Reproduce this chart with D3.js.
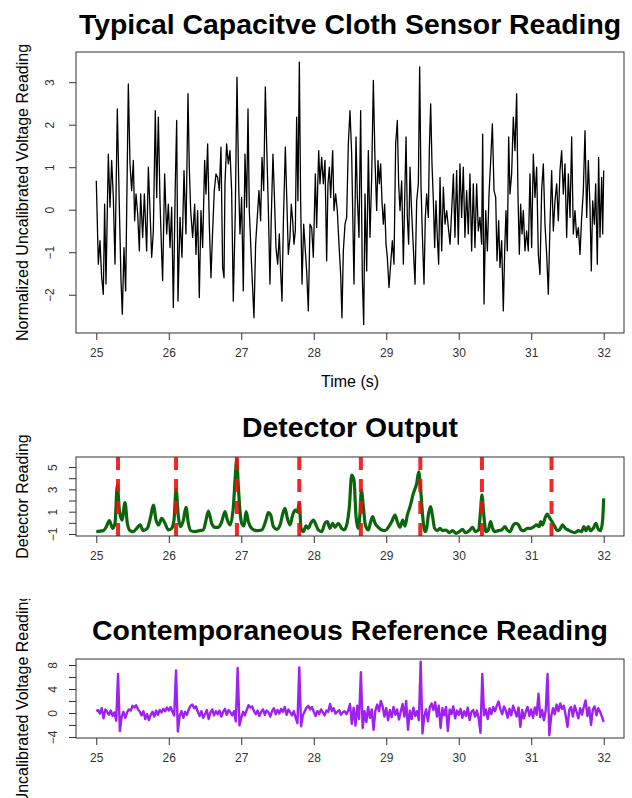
<!DOCTYPE html>
<html><head><meta charset="utf-8">
<script src="https://cdn.jsdelivr.net/npm/d3@7"></script>
<style>
body{margin:0;background:#fff}
svg{display:block}
text{font-family:"Liberation Sans",Arial,Helvetica,sans-serif}
</style>
</head><body>
<svg id="chart" width="632" height="798"></svg>
<script>
// ---------- data ----------
const timeTicks = [25, 26, 27, 28, 29, 30, 31, 32];

const sensorTime = [25.000,25.028,25.051,25.074,25.097,25.115,25.134,25.166,25.189,25.212,25.235,25.258,25.290,25.318,25.341,25.359,25.382,25.405,25.442,25.465,25.488,25.511,25.529,25.548,25.571,25.594,25.612,25.640,25.663,25.695,25.718,25.741,25.764,25.787,25.814,25.833,25.856,25.879,25.902,25.915,25.943,25.971,25.994,26.017,26.040,26.063,26.090,26.109,26.127,26.155,26.182,26.210,26.237,26.265,26.283,26.302,26.329,26.357,26.375,26.398,26.421,26.444,26.467,26.495,26.513,26.536,26.559,26.582,26.605,26.628,26.651,26.674,26.697,26.720,26.743,26.762,26.775,26.798,26.821,26.844,26.867,26.890,26.918,26.941,26.964,26.982,27.005,27.028,27.051,27.074,27.093,27.111,27.134,27.152,27.175,27.198,27.221,27.244,27.267,27.286,27.309,27.332,27.350,27.373,27.396,27.414,27.437,27.456,27.479,27.502,27.525,27.543,27.562,27.580,27.608,27.626,27.649,27.672,27.690,27.709,27.727,27.746,27.764,27.782,27.801,27.819,27.838,27.861,27.884,27.902,27.925,27.948,27.971,27.994,28.022,28.040,28.068,28.086,28.109,28.132,28.155,28.178,28.196,28.215,28.233,28.261,28.279,28.302,28.325,28.348,28.371,28.389,28.408,28.431,28.454,28.477,28.500,28.523,
28.555,28.583,28.601,28.624,28.647,28.670,28.689,28.707,28.730,28.753,28.776,28.799,28.822,28.845,28.868,28.886,28.905,28.923,28.941,28.960,28.978,28.997,29.015,29.038,29.061,29.084,29.107,29.130,29.153,29.171,29.190,29.213,29.236,29.254,29.273,29.291,29.309,29.328,29.346,29.369,29.397,29.420,29.443,29.461,29.479,29.498,29.521,29.539,29.558,29.581,29.594,29.613,29.631,29.650,29.668,29.686,29.705,29.723,29.742,29.765,29.788,29.811,29.834,29.857,29.880,29.903,29.926,29.948,29.971,29.994,30.017,30.040,30.063,30.086,30.109,30.132,30.155,30.178,30.201,30.224,30.247,30.270,30.293,30.316,30.330,30.349,30.372,30.395,30.418,30.441,30.464,30.487,30.510,30.528,30.551,30.569,30.592,30.615,30.634,30.652,30.670,30.689,30.707,30.730,30.753,30.776,30.799,30.818,30.836,30.854,30.873,30.891,30.914,30.937,30.960,30.983,31.006,31.029,31.052,31.075,31.098,31.121,31.144,31.167,31.190,31.213,31.236,31.259,31.282,31.305,31.328,31.351,31.374,31.397,31.420,31.443,31.466,31.489,31.512,31.535,31.558,31.581,31.604,31.627,31.650,31.673,31.696,31.719,31.742,31.765,31.788,31.811,31.829,31.848,31.871,31.889,31.912,31.930,31.949,31.972,31.986,32.000];

const sensorValue = [0.68,-1.28,-0.73,-1.59,-1.99,0.13,-1.75,1.31,0.06,1.16,0.29,-1.28,2.37,0.06,-1.67,-2.46,-0.89,-1.91,2.96,1.08,0.45,1.16,-0.26,0.37,-0.10,-0.97,0.37,-0.65,0.37,-0.97,1.00,-0.02,-1.12,-0.50,2.33,0.29,2.18,0.21,-1.05,-1.67,0.84,-0.57,0.13,-0.89,0.06,-2.30,0.61,2.10,-2.15,-0.18,-1.12,0.92,-0.57,2.73,1.00,-0.02,-0.65,0.13,-1.05,-0.02,-2.07,-0.02,-0.89,1.16,0.37,1.55,-0.34,-1.60,-0.50,0.45,0.84,0.76,0.45,1.47,-1.36,-1.60,0.61,1.55,1.08,1.39,0.45,-2.15,-0.02,3.12,0.61,-0.57,0.29,-1.91,1.31,0.06,2.37,-0.02,-0.97,-1.67,-2.54,-0.81,-0.18,0.45,-0.26,1.23,0.45,2.89,1.55,0.06,-1.75,-0.18,1.31,0.37,-0.89,-1.28,-0.57,-1.44,-2.15,-0.34,1.47,0.37,-1.05,-0.65,0.13,-0.26,-0.81,-0.50,2.18,0.21,3.47,0.21,-1.75,-0.34,-0.97,-1.44,-2.38,-0.34,-0.42,-1.12,0.84,-0.42,1.39,0.61,1.23,0.61,1.16,-1.20,0.61,1.00,0.29,1.39,-0.02,0.37,-0.02,-0.81,-1.52,-2.54,-0.97,-0.34,-0.18,1.55,2.33,1.31,
-1.75,1.71,0.29,-0.65,2.33,-1.60,-2.70,0.37,-1.44,1.39,-0.65,0.76,3.04,1.16,-0.02,1.16,0.61,1.08,0.21,-0.34,0.13,-0.81,-1.12,-1.83,-1.28,-0.73,-1.28,1.55,2.10,0.61,-0.02,0.68,-1.28,0.21,1.71,-0.18,-0.81,1.00,0.13,-0.73,-1.75,0.21,0.61,3.36,0.61,-0.57,-1.75,-0.18,0.37,-0.18,1.39,2.49,1.08,0.21,-0.89,0.21,-0.65,-1.28,0.76,-0.97,0.53,-0.34,-0.02,-0.42,-0.81,-0.02,0.84,-0.65,0.92,-0.81,1.08,-0.18,1.00,-0.65,0.45,-0.57,0.84,-0.97,0.61,-0.89,0.61,-0.50,-0.18,-0.81,1.78,-2.22,-0.02,-0.97,0.37,1.16,2.02,0.45,0.29,-1.20,-0.26,-1.36,-0.73,-2.38,-0.97,-0.02,-0.97,1.71,0.37,0.84,2.18,1.39,2.73,0.29,-1.05,0.13,-0.57,-0.02,-0.97,-0.50,-0.97,0.84,-0.89,1.31,0.29,1.00,-1.05,-1.52,0.45,1.08,-0.34,-1.05,-1.99,-0.34,0.92,-0.50,0.21,0.61,-0.26,0.92,1.39,0.37,1.08,-0.65,0.84,-0.18,1.71,-0.57,-0.02,-0.65,-0.42,-1.05,-0.18,0.45,1.86,-0.18,1.16,0.06,-1.44,0.21,-0.34,0.61,-1.28,1.23,-0.65,0.76,-0.57,0.92];

const detectorTime = [25.000,25.097,25.134,25.180,25.226,25.258,25.290,25.318,25.355,25.396,25.428,25.465,25.511,25.557,25.603,25.649,25.704,25.750,25.787,25.824,25.860,25.902,25.948,25.994,26.040,26.072,26.100,26.132,26.164,26.201,26.237,26.270,26.302,26.362,26.421,26.477,
26.514,26.546,26.592,26.638,26.684,26.730,26.776,26.808,26.845,26.891,26.914,26.937,26.960,26.983,27.006,27.038,27.066,27.098,27.144,27.213,27.282,27.341,27.374,27.406,27.443,27.489,27.535,27.581,27.604,27.636,27.673,27.709,27.742,27.774,27.801,27.824,27.857,27.893,27.926,27.958,27.995,28.031,28.063,28.109,28.155,28.188,28.224,28.261,28.293,28.339,28.385,28.418,28.454,28.491,28.523,28.555,28.583,28.611,28.638,28.657,28.684,28.712,28.753,28.785,28.813,28.845,28.891,28.937,28.983,29.029,29.075,29.121,29.153,29.190,29.227,29.259,29.291,29.328,29.374,29.420,29.448,29.475,29.503,29.535,
29.557,29.585,29.612,29.640,29.667,29.704,29.741,29.778,29.824,29.870,29.916,29.962,30.008,30.054,30.090,30.146,30.192,30.228,30.274,30.302,30.320,30.348,30.375,30.408,30.440,30.467,30.500,30.546,30.592,30.638,30.670,30.707,30.753,30.789,30.826,30.863,30.900,30.946,30.992,31.038,31.074,31.111,31.130,31.157,31.189,31.222,31.258,31.295,31.327,31.360,31.396,31.433,31.470,31.511,31.557,31.603,31.649,31.695,31.727,31.755,31.787,31.819,31.856,31.893,31.925,31.957,31.985,32.000];

const detectorValue = [-0.79,-0.70,-0.40,0.19,-0.49,-0.04,3.39,1.15,0.25,1.81,-0.04,-0.70,-0.79,-0.49,-0.19,-0.70,-0.49,0.55,1.60,0.25,-0.19,0.40,-0.04,-0.64,-0.49,0.25,3.03,0.55,-0.34,0.25,1.39,-0.04,-0.70,-0.79,-0.70,-0.64,
0.25,1.06,-0.04,-0.40,-0.40,0.10,1.00,0.25,-0.19,1.45,3.84,5.65,3.24,1.00,-0.04,-0.28,1.00,0.10,-0.49,-0.70,-0.64,0.25,0.91,0.70,-0.34,-0.58,-0.19,1.00,1.30,0.40,-0.19,0.70,1.15,1.00,1.75,-0.49,-0.79,-0.28,-0.49,-0.04,0.25,-0.19,-0.64,-0.79,-0.04,0.10,-0.49,-0.04,-0.40,-0.04,-0.49,-0.64,-0.19,1.45,4.28,3.84,0.55,-0.49,0.85,2.94,1.45,-0.19,-0.64,0.10,0.55,-0.04,-0.40,-0.64,-0.70,-0.40,0.10,0.70,0.10,-0.40,0.25,-0.28,0.70,1.45,2.64,3.54,4.58,2.94,0.55,-0.79,
-0.49,0.85,1.45,0.55,-0.49,-0.70,-0.49,-0.70,-0.64,-0.88,-0.70,-0.94,-0.79,-0.58,-0.88,-0.70,-0.40,-0.79,-0.64,1.15,2.49,0.55,-0.79,-0.64,0.10,-0.49,-0.79,-0.70,-0.64,-0.34,-0.64,-0.79,-0.19,-0.04,-0.19,-0.64,-0.70,-0.49,-0.49,-0.34,-0.19,-0.34,0.10,-0.19,0.40,0.79,0.40,0.01,-0.34,-0.70,-0.58,-0.19,-0.49,-0.64,-0.79,-0.88,-0.70,-0.79,-0.34,-0.70,-0.34,-0.70,-0.49,-0.04,-0.58,-0.70,0.25,2.19];

const beatTimes = [25.30, 26.10, 26.94, 27.80, 28.65, 29.47, 30.32, 31.28];

// reference signal, sampled every 0.025 s from 25.0 s
const refStart = 25.0, refStep = 0.025;
const refValue = [
0.3,0.5,-0.1,0.8,-0.9,0.6,0.2,-0.3,0.4,-0.5,0.1,-1.3,6.5,-3.0,-0.6,0.2,-0.8,0.1,0.6,0.4,
1.2,0.9,1.3,0.6,0.2,-0.4,0.3,-1.0,-0.2,-1.2,-0.3,0.2,-0.6,0.4,-0.3,0.5,0.1,0.7,0.3,0.9,
0.4,1.0,0.2,-0.4,7.1,-3.1,-0.5,0.3,-0.8,0.2,-0.3,0.6,1.2,1.4,0.8,1.1,0.2,-0.5,0.3,-0.8,
-0.2,0.5,-1.0,0.1,0.6,-0.4,0.3,-0.2,0.4,-0.6,0.2,0.7,-0.3,0.5,0.1,-0.4,0.3,-1.4,7.5,-2.1,
-0.8,0.2,-0.4,0.5,1.3,0.9,1.1,0.3,-0.2,0.4,-0.5,0.2,0.6,-0.3,0.4,0.1,-0.6,0.3,0.8,-0.2,
0.5,-0.1,0.7,0.2,1.0,-0.3,0.6,0.1,-0.4,0.3,-0.8,-1.7,7.6,-2.2,-0.4,0.3,0.9,1.2,0.6,1.0,
0.2,-0.5,0.3,-0.2,0.6,0.1,-0.4,0.4,0.2,1.5,0.3,0.8,-0.1,0.2,0.5,-0.3,0.1,0.3,-0.2,0.4,
1.5,-1.8,0.9,-2.1,1.2,-1.0,6.8,-2.5,0.3,-1.5,1.0,-0.8,0.6,-2.8,0.4,1.4,0.3,2.0,1.1,-0.6,
0.8,-1.2,0.5,-0.7,1.0,-0.3,0.6,-1.1,0.2,1.5,-0.6,2.0,-2.8,0.4,-1.0,0.9,-0.5,0.3,-1.2,8.55,
-3.4,-0.5,0.6,-1.4,0.9,1.6,0.5,1.8,-0.6,1.2,-2.5,0.8,-0.4,1.0,-3.0,0.6,-0.2,1.1,-0.9,0.4,
-0.3,0.7,-0.8,0.3,-0.5,0.9,-1.2,0.2,0.5,-0.6,0.4,-0.9,-3.3,6.5,-0.4,0.6,-1.0,0.8,-0.2,1.0,
0.3,1.2,1.9,0.6,-0.2,1.1,0.4,-0.8,0.7,-0.4,1.2,0.3,-0.6,0.9,-2.3,0.5,-0.9,0.2,1.0,-0.5,
0.6,-0.8,0.9,-0.3,3.2,-0.7,0.5,-1.2,0.4,6.5,-3.7,-0.6,0.8,-0.2,1.4,0.3,1.6,0.7,1.2,-0.4,
-2.3,0.5,1.0,-0.6,1.2,0.2,-0.9,0.8,-0.3,1.0,2.1,-0.5,0.9,-2.0,0.6,1.1,-0.4,0.8,0.2,-0.6,
-1.5];

const sensorYTicks = [-2, -1, 0, 1, 2, 3];
const detectorYTicks = [-1, 0, 1, 2, 3, 4, 5];
const detectorYLabels = [-1, 1, 3, 5];
const refYTicks = [-4, -2, 0, 2, 4, 6, 8];
const refYLabels = [-4, 0, 4, 8];

// ---------- drawing ----------
const svg = d3.select("#chart");
const defs = svg.append("defs");
const L = 76, R = 624;
const x = d3.scaleLinear().domain([24.72, 32.28]).range([L, R]);

// the third figure region starts at y = 599; its axis title is cut there
defs.append("clipPath").attr("id", "refRegion")
  .append("rect").attr("x", 0).attr("y", 599).attr("width", 632).attr("height", 199);

function panel(o) {
  const y = d3.scaleLinear().domain(o.yDomain).range([o.bottom, o.top]);
  const g = svg.append("g");
  const clipId = "clip" + o.id;
  defs.append("clipPath").attr("id", clipId)
    .append("rect").attr("x", L).attr("y", o.top).attr("width", R - L).attr("height", o.bottom - o.top);

  // title
  g.append("text").attr("x", 350).attr("y", o.titleY).attr("text-anchor", "middle")
    .attr("font-size", 28.4).attr("font-weight", "bold").attr("fill", "#000").text(o.title);

  // x axis
  const xa = g.append("g").attr("transform", `translate(0,${o.bottom})`)
    .call(d3.axisBottom(x).tickValues(timeTicks).tickSize(7).tickFormat(d3.format("d")));
  xa.select(".domain").remove();
  xa.selectAll(".tick line").attr("stroke", "#333");
  xa.selectAll(".tick text").attr("y", 24).attr("dy", 0).attr("font-size", 12)
    .attr("fill", "#333").attr("font-family", null);

  // y axis
  const ya = g.append("g").attr("transform", `translate(${L},0)`)
    .call(d3.axisLeft(y).tickValues(o.yTicks).tickSize(7)
      .tickFormat(d => o.yLabels.includes(d) ? d3.format("d")(d) : ""));
  ya.select(".domain").remove();
  ya.selectAll(".tick line").attr("stroke", "#333");
  ya.selectAll(".tick text").attr("x", null).attr("dy", null).attr("text-anchor", "middle")
    .attr("transform", `translate(${-o.yLabOff},0) rotate(-90)`)
    .attr("font-size", 12).attr("fill", "#333").attr("font-family", null);

  // axis titles
  const ytHolder = g.append("g");
  if (o.yTitleClip) ytHolder.attr("clip-path", `url(#${o.yTitleClip})`);
  ytHolder.append("text").attr("transform", `translate(28,${(o.top + o.bottom) / 2}) rotate(-90)`)
    .attr("text-anchor", "middle").attr("font-size", 16).attr("fill", "#000").text(o.yTitle);
  if (o.xTitle) {
    g.append("text").attr("x", 350).attr("y", o.bottom + 54).attr("text-anchor", "middle")
      .attr("font-size", 16).attr("fill", "#000").text(o.xTitle);
  }

  const plot = g.append("g").attr("clip-path", `url(#${clipId})`);
  o.draw(plot, y);

  // box
  g.append("rect").attr("x", L).attr("y", o.top).attr("width", R - L).attr("height", o.bottom - o.top)
    .attr("fill", "none").attr("stroke", "#333").attr("stroke-width", 1);
}

// top panel
panel({
  id: "s", top: 52, bottom: 333, yDomain: [-2.9, 3.71], yTicks: sensorYTicks, yLabels: sensorYTicks,
  yLabOff: 22, title: "Typical Capacitve Cloth Sensor Reading", titleY: 34,
  yTitle: "Normalized Uncalibrated Voltage Reading", xTitle: "Time (s)",
  draw: (p, y) => {
    const line = d3.line().x((d, i) => x(sensorTime[i])).y(d => y(d));
    p.append("path").datum(sensorValue).attr("d", line).attr("fill", "none")
      .attr("stroke", "#000").attr("stroke-width", 1.3).attr("stroke-linejoin", "round");
  }
});

// middle panel
panel({
  id: "d", top: 457, bottom: 536, yDomain: [-1.18, 5.9], yTicks: detectorYTicks, yLabels: detectorYLabels,
  yLabOff: 19, title: "Detector Output", titleY: 437, yTitle: "Detector Reading",
  draw: (p, y) => {
    const line = d3.line().curve(d3.curveMonotoneX).x((d, i) => x(detectorTime[i])).y(d => y(d));
    p.append("path").datum(detectorValue).attr("d", line).attr("fill", "none")
      .attr("stroke", "#0b660b").attr("stroke-width", 3.2).attr("stroke-linejoin", "round");
    p.selectAll("line.beat").data(beatTimes).join("line").attr("class", "beat")
      .attr("x1", d => x(d)).attr("x2", d => x(d)).attr("y1", 536).attr("y2", 457)
      .attr("stroke", "#ee1111").attr("stroke-width", 4).attr("stroke-dasharray", "13,9")
      .attr("opacity", 0.9);
  }
});

// bottom panel
panel({
  id: "r", top: 659, bottom: 738, yDomain: [-4.17, 9.0], yTicks: refYTicks, yLabels: refYLabels,
  yLabOff: 19, title: "Contemporaneous Reference Reading", titleY: 640,
  yTitle: "Uncalibrated Voltage Reading", yTitleClip: "refRegion",
  draw: (p, y) => {
    const line = d3.line().x((d, i) => x(refStart + i * refStep)).y(d => y(d));
    p.append("path").datum(refValue).attr("d", line).attr("fill", "none")
      .attr("stroke", "#a020f0").attr("stroke-width", 2.4).attr("stroke-linejoin", "round");
  }
});
</script>
</body></html>
